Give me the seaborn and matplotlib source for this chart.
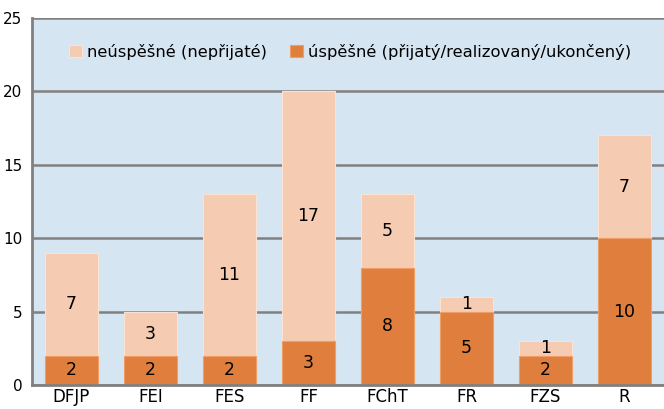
import numpy as np
import pandas as pd
import matplotlib.pyplot as plt
import seaborn as sns

faculties = ['DFJP', 'FEI', 'FES', 'FF', 'FChT', 'FR', 'FZS', 'R']
success = [2, 2, 2, 3, 8, 5, 2, 10]
fail = [7, 3, 11, 17, 5, 1, 1, 7]

light = '#F5CBB2'
dark = '#E07F3D'
bg = '#D6E5F2'

df = pd.DataFrame({'fakulta': faculties, 'ok': success, 'ko': fail})
df['total'] = df['ok'] + df['ko']

sns.set_style('white')
plt.rcParams['font.family'] = ['DejaVu Sans']
plt.rcParams['text.color'] = 'black'
plt.rcParams['xtick.labelcolor'] = 'black'
plt.rcParams['ytick.labelcolor'] = 'black'

fig = plt.figure(figsize=(6.64, 4.09), dpi=100)
ax = fig.add_axes([32/664, 24/409, 632/664, 367/409])
ax.set_facecolor(bg)

# stacked: total first (light), then success on top of it (dark)
sns.barplot(data=df, x='fakulta', y='total', color=light, width=0.67,
            saturation=1, edgecolor='#FBE3D4', linewidth=0.8, ax=ax,
            label='neúspěšné (nepřijaté)')
sns.barplot(data=df, x='fakulta', y='ok', color=dark, width=0.67,
            saturation=1, edgecolor='#EE9E66', linewidth=0.8, ax=ax,
            label='úspěšné (přijatý/realizovaný/ukončený)')

for i in range(len(faculties)):
    ax.text(i, success[i] / 2, str(success[i]), ha='center', va='center', fontsize=12.5, color='black')
    ax.text(i, success[i] + fail[i] / 2, str(fail[i]), ha='center', va='center', fontsize=12.5, color='black')

ax.set_ylim(0, 25)
ax.set_xlim(-0.5, len(faculties) - 0.5)
ax.set_yticks(range(0, 26, 5))
ax.set_xticks(np.arange(-0.5, len(faculties), 1), minor=True)
ax.tick_params(axis='x', which='major', length=0, labelsize=12, pad=2, labelcolor='black')
ax.tick_params(axis='x', which='minor', length=5, width=1.5, color='#808080', direction='out')
ax.tick_params(axis='y', length=5, width=1.5, color='#808080', labelsize=11, pad=2, labelcolor='black')
ax.set_xlabel('')
ax.set_ylabel('')

ax.yaxis.grid(True, color='#808080', linewidth=1.8)
ax.set_axisbelow(True)
for s in ['top', 'right']:
    ax.spines[s].set_visible(False)
ax.spines['left'].set_color('#808080')
ax.spines['left'].set_linewidth(2)
ax.spines['bottom'].set_color('#808080')
ax.spines['bottom'].set_linewidth(2)

leg = ax.legend(loc='upper left', bbox_to_anchor=(0.035, 0.97), ncol=2, frameon=False,
                fontsize=11.8, handlelength=0.8, handleheight=0.8, handletextpad=0.3,
                columnspacing=1.4)
for t in leg.get_texts():
    t.set_color('black')

fig.savefig('out.png', dpi=100)
